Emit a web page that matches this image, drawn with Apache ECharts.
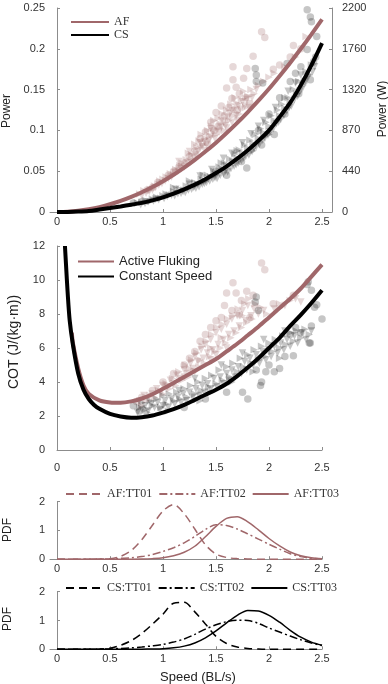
<!DOCTYPE html>
<html>
<head>
<meta charset="utf-8">
<script src="https://cdn.jsdelivr.net/npm/echarts@6/dist/echarts.min.js"></script>
<style>
  html, body { margin: 0; padding: 0; background: #fff; }
  #main { width: 388px; height: 684px; }
</style>
</head>
<body>
<div id="main"></div>
<script>
// speeds (BL/s) used by the fitted curves and PDFs
var speedGrid = [0, 0.1, 0.2, 0.3, 0.4, 0.5, 0.6, 0.7, 0.8, 0.9, 1.0, 1.1, 1.2, 1.3, 1.4, 1.5, 1.6, 1.7, 1.8, 1.9, 2.0, 2.1, 2.2, 2.3, 2.4, 2.5];
var xTicks = [0, 0.5, 1, 1.5, 2, 2.5];
var powerWattLabels = ['0', '440', '870', '1320', '1760', '2200'];

// power fits
var powerAF = [0, 0.0004, 0.0015, 0.0034, 0.006, 0.0095, 0.0136, 0.0185, 0.0242, 0.0306, 0.0378, 0.0457, 0.0544, 0.0639, 0.0741, 0.085, 0.0968, 0.1092, 0.1225, 0.1364, 0.151, 0.1667, 0.183, 0.2, 0.2177, 0.236];
var powerCS = [0, 0.0001, 0.0005, 0.0013, 0.003, 0.0048, 0.0068, 0.009, 0.0112, 0.0143, 0.018, 0.0225, 0.0277, 0.0335, 0.0402, 0.0477, 0.056, 0.0653, 0.0757, 0.0873, 0.1, 0.1165, 0.134, 0.1555, 0.18, 0.207];

// COT fits
var cotSpeedAF = [0.14, 0.15, 0.2, 0.25, 0.3, 0.4, 0.5, 0.6, 0.7, 0.8, 0.9, 1.0, 1.1, 1.2, 1.3, 1.4, 1.5, 1.6, 1.7, 1.8, 1.9, 2.0, 2.1, 2.2, 2.3, 2.4, 2.5];
var cotAF = [6.9, 6.3, 4.8, 3.8, 3.3, 2.92, 2.8, 2.78, 2.86, 3.03, 3.28, 3.6, 3.94, 4.3, 4.65, 5.0, 5.35, 5.8, 6.25, 6.75, 7.25, 7.8, 8.35, 8.9, 9.5, 10.2, 10.9];
var cotSpeedCS = [0.075, 0.085, 0.1, 0.12, 0.15, 0.2, 0.25, 0.3, 0.35, 0.4, 0.5, 0.6, 0.7, 0.8, 0.9, 1.0, 1.1, 1.2, 1.3, 1.4, 1.5, 1.6, 1.7, 1.8, 1.9, 2.0, 2.1, 2.2, 2.3, 2.4, 2.5];
var cotCS = [12, 10.9, 9.3, 7.6, 6.2, 4.5, 3.55, 3.0, 2.65, 2.42, 2.12, 1.97, 1.9, 1.93, 2.03, 2.2, 2.4, 2.65, 2.95, 3.25, 3.55, 3.9, 4.35, 4.85, 5.4, 6.0, 6.6, 7.3, 7.95, 8.65, 9.4];

// speed PDFs
var pdfAF01 = [0, 0, 0, 0, 0.005, 0.02, 0.1, 0.3, 0.68, 1.18, 1.68, 1.9, 1.58, 1.05, 0.5, 0.18, 0.06, 0.02, 0.01, 0, 0, 0, 0, 0, 0, 0];
var pdfAF02 = [0, 0, 0, 0, 0.005, 0.01, 0.03, 0.05, 0.09, 0.16, 0.27, 0.4, 0.57, 0.79, 1.03, 1.2, 1.17, 1.05, 0.88, 0.7, 0.52, 0.35, 0.19, 0.09, 0.03, 0.01];
var pdfAF03 = [0, 0, 0, 0, 0, 0, 0, 0, 0.005, 0.02, 0.05, 0.12, 0.24, 0.45, 0.78, 1.14, 1.42, 1.48, 1.3, 1.02, 0.72, 0.46, 0.25, 0.12, 0.05, 0.02];
var pdfCS01 = [0, 0, 0, 0, 0.01, 0.04, 0.14, 0.3, 0.55, 0.87, 1.22, 1.6, 1.63, 1.3, 0.88, 0.45, 0.2, 0.08, 0.03, 0.01, 0, 0, 0, 0, 0, 0];
var pdfCS02 = [0, 0, 0, 0, 0.005, 0.01, 0.03, 0.05, 0.08, 0.12, 0.17, 0.25, 0.36, 0.52, 0.7, 0.85, 0.96, 1.01, 1.0, 0.9, 0.74, 0.6, 0.46, 0.33, 0.22, 0.13];
var pdfCS03 = [0, 0, 0, 0, 0, 0, 0, 0, 0.005, 0.01, 0.02, 0.05, 0.11, 0.22, 0.4, 0.64, 0.92, 1.18, 1.35, 1.33, 1.18, 0.94, 0.66, 0.42, 0.25, 0.14];

// measured points, power panel [speed, power]
var afPowerDots = [[1.93,0.221],[1.96,0.214],[1.85,0.191],[1.66,0.178],[1.79,0.176],[2.04,0.175],[2.23,0.204],[1.66,0.162],[1.6,0.152],[1.69,0.153],[1.76,0.164],[1.65,0.139],[1.55,0.13],[1.72,0.145],[1.45,0.11],[1.5,0.122],[1.4,0.098],[1.35,0.09],[1.58,0.118],[1.62,0.128],[1.48,0.1],[1.3,0.075],[1.25,0.068],[1.2,0.06],[1.15,0.055],[1.1,0.05],[1.05,0.045],[0.95,0.036],[0.9,0.03],[0.85,0.027],[1.78,0.14],[1.82,0.133],[1.7,0.125],[1.52,0.105],[1.42,0.085],[2.1,0.18],[2.2,0.19],[2.3,0.2]];
var afPowerTri = [[0.78,0.022],[0.82,0.026],[0.88,0.028],[0.92,0.032],[0.97,0.038],[1.0,0.04],[1.03,0.043],[1.07,0.047],[1.1,0.046],[1.12,0.052],[1.16,0.057],[1.18,0.06],[1.22,0.064],[1.24,0.072],[1.27,0.07],[1.3,0.083],[1.32,0.079],[1.34,0.087],[1.36,0.095],[1.38,0.082],[1.4,0.09],[1.42,0.1],[1.44,0.093],[1.46,0.105],[1.48,0.112],[1.5,0.095],[1.52,0.115],[1.54,0.108],[1.56,0.12],[1.58,0.1],[1.6,0.125],[1.62,0.112],[1.64,0.132],[1.66,0.118],[1.68,0.14],[1.7,0.133],[1.72,0.12],[1.74,0.138],[1.76,0.148],[1.78,0.128],[1.8,0.142],[1.83,0.15],[1.86,0.145],[1.9,0.155],[1.95,0.16],[2.0,0.165],[2.05,0.17],[2.15,0.178],[2.25,0.19],[2.35,0.215]];
var afPowerTri2 = [[0.8,0.02],[0.84,0.023],[0.87,0.025],[0.9,0.027],[0.93,0.03],[0.96,0.033],[0.99,0.035],[1.02,0.038],[1.05,0.041],[1.08,0.043],[1.11,0.048],[1.14,0.05],[1.17,0.053],[1.2,0.055],[1.23,0.06],[1.26,0.062],[1.29,0.067],[1.31,0.07],[1.33,0.074],[1.35,0.078],[1.37,0.08],[1.39,0.086],[1.41,0.082],[1.43,0.088],[1.45,0.092],[1.47,0.098],[1.49,0.09],[1.51,0.1],[1.53,0.098],[1.55,0.104],[1.57,0.11],[1.59,0.106],[1.61,0.116],[1.63,0.12],[1.65,0.11],[1.67,0.125],[1.69,0.118],[1.71,0.13],[1.73,0.126],[1.75,0.135],[1.77,0.13],[1.79,0.138],[1.81,0.128],[1.84,0.14],[1.88,0.15],[1.25,0.074],[1.35,0.085],[1.45,0.102],[1.55,0.112],[1.65,0.124],[1.15,0.062],[1.4,0.075],[1.6,0.103],[1.7,0.112]];
var csPowerDots = [[2.36,0.248],[2.39,0.239],[2.4,0.233],[1.87,0.176],[1.88,0.168],[1.88,0.16],[1.94,0.158],[2.36,0.199],[2.42,0.184],[2.45,0.215],[2.39,0.162],[2.17,0.182],[1.74,0.062],[1.79,0.054],[1.93,0.082],[2.2,0.16],[2.25,0.17],[2.3,0.178],[2.1,0.14],[2.0,0.12],[1.9,0.1],[2.05,0.095],[2.15,0.12],[0.72,0.011],[0.8,0.013],[1.5,0.05],[1.6,0.045],[2.28,0.145],[2.33,0.16],[2.44,0.19]];
var csPowerTri = [[0.76,0.011],[0.8,0.012],[0.84,0.014],[0.88,0.013],[0.9,0.016],[0.94,0.018],[0.98,0.017],[1.0,0.02],[1.03,0.022],[1.06,0.021],[1.1,0.025],[1.13,0.024],[1.16,0.028],[1.2,0.027],[1.22,0.032],[1.26,0.031],[1.3,0.036],[1.33,0.034],[1.36,0.04],[1.4,0.038],[1.42,0.045],[1.45,0.043],[1.48,0.05],[1.5,0.046],[1.53,0.055],[1.56,0.052],[1.58,0.06],[1.6,0.057],[1.63,0.065],[1.66,0.062],[1.68,0.071],[1.7,0.066],[1.72,0.076],[1.75,0.072],[1.77,0.082],[1.8,0.078],[1.82,0.088],[1.85,0.084],[1.87,0.095],[1.9,0.09],[1.92,0.102],[1.95,0.097],[1.97,0.11],[2.0,0.105],[2.02,0.118],[2.05,0.112],[2.08,0.125],[2.1,0.118],[2.12,0.132],[2.15,0.127],[2.18,0.14],[2.2,0.135],[2.23,0.15],[2.26,0.145],[2.28,0.16],[2.32,0.155],[2.35,0.172],[2.38,0.168],[2.4,0.18],[1.38,0.045],[1.55,0.06],[1.7,0.075],[1.85,0.075],[2.0,0.095],[2.15,0.14],[1.25,0.038],[1.1,0.03]];
var csPowerTri2 = [[0.79,0.009],[0.83,0.0105],[0.86,0.0125],[0.91,0.0135],[0.93,0.0155],[0.96,0.015],[1.01,0.0165],[1.04,0.019],[1.08,0.0205],[1.11,0.02],[1.14,0.0225],[1.17,0.023],[1.19,0.025],[1.21,0.024],[1.24,0.027],[1.27,0.028],[1.29,0.03],[1.31,0.029],[1.34,0.031],[1.37,0.034],[1.39,0.035],[1.41,0.036],[1.44,0.038],[1.47,0.04],[1.49,0.042],[1.51,0.041],[1.54,0.045],[1.57,0.047],[1.59,0.05],[1.61,0.049],[1.64,0.053],[1.67,0.056],[1.69,0.058],[1.71,0.06],[1.74,0.063],[1.76,0.066],[1.78,0.068],[1.81,0.07],[1.84,0.074],[1.86,0.078],[1.88,0.08],[1.91,0.083],[1.94,0.088],[1.96,0.09],[1.99,0.094],[2.01,0.098],[2.04,0.102],[2.07,0.108],[2.09,0.11],[2.11,0.113],[2.14,0.118],[2.17,0.124],[2.19,0.128],[2.21,0.13],[2.24,0.138],[2.27,0.142],[2.29,0.148],[2.31,0.15],[2.34,0.16],[2.37,0.165],[2.41,0.172],[2.43,0.178],[1.35,0.044],[1.46,0.052],[1.57,0.066],[1.65,0.072],[1.75,0.085],[1.83,0.096],[1.95,0.112],[2.06,0.128],[2.18,0.148],[2.3,0.168],[1.12,0.028],[1.25,0.034],[1.9,0.105],[2.25,0.158]];

// measured points, COT panel [speed, COT]
var afCotDots = [[1.93,11.0],[1.96,10.6],[1.66,9.84],[1.6,9.24],[1.69,9.24],[1.79,9.34],[1.74,8.8],[1.85,9.1],[2.04,8.6],[2.23,9.1],[1.65,8.2],[1.55,7.8],[1.45,7.2],[1.5,7.6],[1.4,6.8],[1.35,6.4],[1.3,5.8],[1.2,5.0],[1.1,4.5],[1.0,4.0],[0.9,3.5],[0.8,3.1],[0.75,2.85],[1.25,5.4],[1.58,8.5],[1.72,8.0],[1.82,7.8]];
var afCotTri = [[0.78,2.9],[0.82,3.2],[0.86,3.0],[0.9,3.3],[0.94,3.6],[0.98,3.4],[1.0,3.8],[1.04,3.7],[1.07,4.1],[1.1,3.9],[1.13,4.4],[1.16,4.2],[1.2,4.7],[1.23,4.5],[1.26,5.1],[1.28,4.8],[1.3,5.5],[1.33,5.2],[1.36,5.9],[1.38,5.4],[1.4,6.2],[1.42,5.7],[1.45,6.5],[1.47,5.9],[1.5,6.9],[1.52,6.2],[1.55,7.1],[1.57,6.5],[1.6,7.4],[1.62,6.8],[1.65,7.7],[1.67,7.0],[1.7,7.9],[1.72,7.3],[1.75,8.2],[1.78,7.6],[1.8,8.5],[1.83,7.9],[1.86,8.3],[1.9,8.0],[1.95,8.2],[2.05,8.3],[2.15,8.5],[2.25,8.9],[2.3,8.7],[1.3,4.6],[1.45,5.3],[1.6,6.0],[1.2,4.3],[1.5,5.6]];
var afCotTri2 = [[0.8,2.6],[0.84,2.9],[0.88,3.2],[0.92,3.1],[0.96,3.5],[1.0,3.3],[1.03,3.9],[1.06,3.6],[1.09,4.2],[1.12,3.8],[1.15,4.6],[1.18,4.1],[1.21,5.0],[1.24,4.3],[1.27,5.3],[1.29,4.6],[1.32,5.7],[1.34,4.9],[1.37,6.1],[1.39,5.1],[1.41,6.4],[1.44,5.5],[1.46,6.8],[1.49,5.8],[1.51,7.2],[1.54,6.0],[1.56,7.4],[1.59,6.3],[1.61,7.7],[1.64,6.6],[1.66,7.9],[1.69,6.9],[1.71,8.3],[1.74,7.2],[1.77,8.6],[1.79,7.5],[1.81,8.9],[1.84,7.7],[1.87,8.6],[1.92,8.4],[1.98,8.0],[2.1,8.6],[2.2,8.8],[1.35,5.3],[1.55,6.6],[1.75,7.9],[1.25,4.8],[1.45,6.0]];
var csCotDots = [[2.37,9.9],[2.4,9.4],[2.43,8.4],[2.5,7.7],[2.4,7.3],[2.38,6.3],[1.88,9.0],[1.87,8.7],[1.9,8.2],[2.36,9.74],[2.45,8.54],[1.8,3.0],[1.75,3.4],[1.92,3.8],[1.93,4.0],[1.88,4.7],[1.97,4.6],[2.1,4.8],[2.05,4.6],[2.2,6.8],[2.25,7.2],[2.3,6.9],[0.72,2.6],[0.78,2.3],[1.2,2.5],[1.4,3.0],[1.6,3.4],[2.15,5.5],[2.0,5.0],[2.23,5.54],[2.39,6.3]];
var csCotTri = [[0.78,2.5],[0.8,2.8],[0.84,2.4],[0.88,2.9],[0.9,2.6],[0.94,3.0],[0.98,2.5],[1.0,3.2],[1.03,2.7],[1.06,3.3],[1.1,2.9],[1.13,3.4],[1.16,3.0],[1.2,3.6],[1.23,3.1],[1.26,3.8],[1.3,3.3],[1.33,4.0],[1.36,3.5],[1.4,4.2],[1.43,3.7],[1.46,4.4],[1.5,3.9],[1.53,4.7],[1.56,4.1],[1.6,4.9],[1.63,4.3],[1.66,5.1],[1.7,4.6],[1.73,5.4],[1.76,4.9],[1.8,5.6],[1.83,5.1],[1.86,5.9],[1.9,5.3],[1.93,6.1],[1.96,5.5],[2.0,6.3],[2.03,5.8],[2.06,6.5],[2.1,6.0],[2.13,6.7],[2.16,6.2],[2.2,6.9],[2.23,6.4],[2.26,7.0],[2.3,6.6],[2.34,7.1],[2.38,6.8],[1.45,3.4],[1.65,4.0],[1.85,4.6],[1.05,2.3],[1.35,2.9],[0.85,2.2],[2.1,5.4]];
var csCotTri2 = [[0.76,2.2],[0.8,2.4],[0.83,2.6],[0.86,2.3],[0.89,2.7],[0.92,2.5],[0.95,2.8],[0.97,2.35],[1.0,2.6],[1.02,2.9],[1.05,2.5],[1.08,3.0],[1.11,2.7],[1.14,3.1],[1.17,2.8],[1.19,3.3],[1.22,2.9],[1.25,3.4],[1.28,3.1],[1.31,3.6],[1.34,3.2],[1.37,3.8],[1.39,3.4],[1.42,3.9],[1.45,3.6],[1.48,4.2],[1.51,3.7],[1.54,4.3],[1.57,3.9],[1.6,4.5],[1.62,4.1],[1.65,4.7],[1.68,4.3],[1.71,4.9],[1.74,4.5],[1.77,5.2],[1.79,4.7],[1.82,5.4],[1.85,5.0],[1.88,5.6],[1.91,5.1],[1.94,5.8],[1.97,5.3],[2.0,5.9],[2.02,5.5],[2.05,6.1],[2.08,5.7],[2.11,6.3],[2.14,5.9],[2.17,6.5],[2.2,6.1],[2.24,6.7],[2.27,6.3],[2.31,6.9],[2.35,6.5],[2.4,7.0],[1.55,5.0],[1.75,5.7],[1.95,6.5],[2.15,7.0],[1.3,4.2],[1.15,3.5]];

function zip(xs, ys) {
  var out = [];
  for (var i = 0; i < xs.length; i++) out.push([xs[i], ys[i]]);
  return out;
}

var AF_COLOR = '#a0676a';
var CS_COLOR = '#000000';
var AF_DOT = 'rgba(160,103,106,0.32)';
var CS_DOT = 'rgba(0,0,0,0.28)';
var AXIS_COLOR = '#8c8c8c';
var LABEL_COLOR = '#333333';
var SANS = 'Liberation Sans';
var SERIF = 'Liberation Serif';

function xAxisFor(grid, min, max, offset) {
  return {
    type: 'value', gridIndex: grid, min: min, max: max, offset: offset || 0,
    axisLine: { show: true, lineStyle: { color: AXIS_COLOR } },
    axisTick: { show: true, inside: true, length: 3, customValues: xTicks, lineStyle: { color: AXIS_COLOR } },
    axisLabel: { customValues: xTicks, color: LABEL_COLOR, fontSize: 11, fontFamily: SANS, margin: 4 },
    splitLine: { show: false }
  };
}
function yAxisFor(grid, min, max, interval, offset) {
  return {
    type: 'value', gridIndex: grid, min: min, max: max, interval: interval, offset: offset || 0,
    axisLine: { show: true, lineStyle: { color: AXIS_COLOR } },
    axisTick: { show: true, inside: true, length: 3, lineStyle: { color: AXIS_COLOR } },
    axisLabel: { color: LABEL_COLOR, fontSize: 11, fontFamily: SANS, margin: 5 },
    splitLine: { show: false }
  };
}
function dots(name, data, x, y, color, symbol, rotate) {
  return {
    name: name, type: 'scatter', xAxisIndex: x, yAxisIndex: y, data: data,
    symbol: symbol, symbolSize: 7.5, symbolRotate: rotate || 0,
    itemStyle: { color: color }, z: 1, silent: true
  };
}
function curve(name, data, x, y, color, width, type, z) {
  return {
    name: name, type: 'line', xAxisIndex: x, yAxisIndex: y, data: data,
    smooth: 0.3, showSymbol: false, symbol: 'none',
    lineStyle: { color: color, width: width, type: type || 'solid' },
    itemStyle: { color: color }, z: z || 3
  };
}
// legend shows only the line, not the marker
var noMarker = { color: 'rgba(0,0,0,0)', borderColor: 'rgba(0,0,0,0)', borderWidth: 0, opacity: 0 };

var dashed = [8, 5];
var dashDot = [8, 3, 2, 3];

var chart = echarts.init(document.getElementById('main'), null, { renderer: 'canvas' });
chart.setOption({
  animation: false,
  backgroundColor: '#fff',
  grid: [
    { left: 50, width: 282, top: 8, height: 204 },
    { left: 57, width: 265, top: 246, height: 204 },
    { left: 50, width: 272, top: 501.7, height: 57.5 },
    { left: 50, width: 272, top: 591.7, height: 57.6 }
  ],
  xAxis: [
    xAxisFor(0, -0.066, 2.594),
    xAxisFor(1, 0, 2.5, 8),
    xAxisFor(2, -0.066, 2.5),
    xAxisFor(3, -0.066, 2.5)
  ],
  yAxis: [
    yAxisFor(0, 0, 0.25, 0.05),
    (function () {
      var a = yAxisFor(0, 0, 0.25, 0.05);
      a.position = 'right';
      a.axisLabel.formatter = function (v) { return powerWattLabels[Math.round(v / 0.05)]; };
      a.axisLabel.margin = 10;
      return a;
    })(),
    yAxisFor(1, 0, 12, 2, 7),
    yAxisFor(2, 0, 2, 1),
    yAxisFor(3, 0, 2, 1)
  ],
  legend: [
    { data: ['AF', 'CS'], orient: 'vertical', left: 65, top: 11, itemWidth: 38, itemHeight: 8, itemGap: 1,
      itemStyle: noMarker, selectedMode: false, textStyle: { fontFamily: SERIF, fontSize: 12, lineHeight: 12, color: LABEL_COLOR } },
    { data: ['Active Fluking', 'Constant Speed'], orient: 'vertical', left: 72, top: 250, itemWidth: 36, itemHeight: 10, itemGap: 2,
      itemStyle: noMarker, selectedMode: false, textStyle: { fontFamily: SANS, fontSize: 13, lineHeight: 13, color: '#222' } },
    { data: ['AF:TT01', 'AF:TT02', 'AF:TT03'], left: 60, top: 483, itemWidth: 36, itemHeight: 10, itemGap: 6,
      itemStyle: noMarker, selectedMode: false, textStyle: { fontFamily: SERIF, fontSize: 12, lineHeight: 12, color: LABEL_COLOR } },
    { data: ['CS:TT01', 'CS:TT02', 'CS:TT03'], left: 60, top: 577, itemWidth: 36, itemHeight: 10, itemGap: 6,
      itemStyle: noMarker, selectedMode: false, textStyle: { fontFamily: SERIF, fontSize: 12, lineHeight: 12, color: LABEL_COLOR } }
  ],
  graphic: [
    { type: 'text', x: 7, y: 111, rotation: Math.PI / 2, style: { text: 'Power', fontSize: 12, fontFamily: SANS, fill: '#222', textAlign: 'center', textVerticalAlign: 'middle' } },
    { type: 'text', x: 383, y: 109, rotation: Math.PI / 2, style: { text: 'Power (W)', fontSize: 12, fontFamily: SANS, fill: '#222', textAlign: 'center', textVerticalAlign: 'middle' } },
    { type: 'text', x: 14, y: 342, rotation: Math.PI / 2, style: { text: 'COT (J/(kg·m))', fontSize: 14, fontFamily: SANS, fill: '#222', textAlign: 'center', textVerticalAlign: 'middle' } },
    { type: 'text', x: 8, y: 530, rotation: Math.PI / 2, style: { text: 'PDF', fontSize: 12, fontFamily: SANS, fill: '#222', textAlign: 'center', textVerticalAlign: 'middle' } },
    { type: 'text', x: 8, y: 619, rotation: Math.PI / 2, style: { text: 'PDF', fontSize: 12, fontFamily: SANS, fill: '#222', textAlign: 'center', textVerticalAlign: 'middle' } },
    { type: 'text', x: 198, y: 677, style: { text: 'Speed (BL/s)', fontSize: 13, fontFamily: SANS, fill: '#222', textAlign: 'center', textVerticalAlign: 'middle' } }
  ],
  series: [
    dots('afPd', afPowerDots, 0, 0, AF_DOT, 'circle'),
    dots('afPt', afPowerTri, 0, 0, AF_DOT, 'triangle', -90),
    dots('afPt2', afPowerTri2, 0, 0, AF_DOT, 'triangle', 180),
    dots('csPd', csPowerDots, 0, 0, CS_DOT, 'circle'),
    dots('csPt', csPowerTri, 0, 0, CS_DOT, 'triangle', -90),
    dots('csPt2', csPowerTri2, 0, 0, CS_DOT, 'triangle', 180),
    curve('AF', zip(speedGrid, powerAF), 0, 0, AF_COLOR, 4),
    curve('CS', zip(speedGrid, powerCS), 0, 0, CS_COLOR, 4, 'solid', 4),

    dots('afCd', afCotDots, 1, 2, AF_DOT, 'circle'),
    dots('afCt', afCotTri, 1, 2, AF_DOT, 'triangle', 180),
    dots('afCt2', afCotTri2, 1, 2, AF_DOT, 'triangle', -90),
    dots('csCd', csCotDots, 1, 2, CS_DOT, 'circle'),
    dots('csCt', csCotTri, 1, 2, CS_DOT, 'triangle', -90),
    dots('csCt2', csCotTri2, 1, 2, CS_DOT, 'triangle', 180),
    curve('Active Fluking', zip(cotSpeedAF, cotAF), 1, 2, AF_COLOR, 4),
    curve('Constant Speed', zip(cotSpeedCS, cotCS), 1, 2, CS_COLOR, 4, 'solid', 4),

    curve('AF:TT01', zip(speedGrid, pdfAF01), 2, 3, AF_COLOR, 1.5, dashed),
    curve('AF:TT02', zip(speedGrid, pdfAF02), 2, 3, AF_COLOR, 1.5, dashDot),
    curve('AF:TT03', zip(speedGrid, pdfAF03), 2, 3, AF_COLOR, 1.5),

    curve('CS:TT01', zip(speedGrid, pdfCS01), 3, 4, CS_COLOR, 1.5, dashed),
    curve('CS:TT02', zip(speedGrid, pdfCS02), 3, 4, CS_COLOR, 1.5, dashDot),
    curve('CS:TT03', zip(speedGrid, pdfCS03), 3, 4, CS_COLOR, 1.5)
  ]
});
</script>
</body>
</html>
